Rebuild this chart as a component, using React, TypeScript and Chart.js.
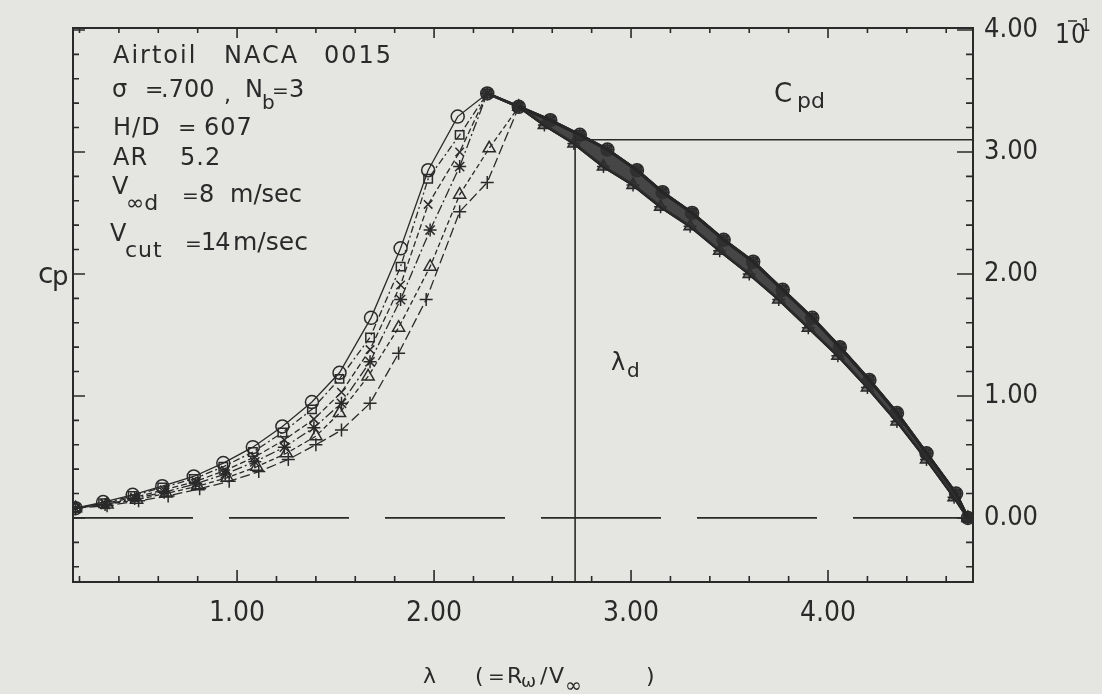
import React, { useEffect, useRef } from "react";
import { Chart, registerables } from "chart.js";

Chart.register(...registerables);

// ---- data ----
const circleLambda = [0.18, 0.32, 0.47, 0.62, 0.78, 0.93, 1.08, 1.23, 1.38, 1.52, 1.68, 1.83, 1.97, 2.12];
const circleCp = [0.08, 0.13, 0.19, 0.26, 0.34, 0.45, 0.58, 0.75, 0.95, 1.19, 1.64, 2.21, 2.85, 3.29];

const squareLambda = [0.18, 0.32, 0.47, 0.62, 0.78, 0.93, 1.08, 1.23, 1.38, 1.52, 1.675, 1.83, 1.97, 2.13];
const squareCp = [0.08, 0.12, 0.18, 0.25, 0.32, 0.42, 0.54, 0.7, 0.89, 1.14, 1.48, 2.06, 2.78, 3.14];

const crossLambda = [0.18, 0.33, 0.48, 0.63, 0.79, 0.94, 1.09, 1.24, 1.39, 1.53, 1.675, 1.83, 1.97, 2.13];
const crossCp = [0.08, 0.12, 0.17, 0.23, 0.3, 0.39, 0.5, 0.64, 0.81, 1.03, 1.38, 1.91, 2.57, 3.0];

const starLambda = [0.18, 0.33, 0.48, 0.63, 0.79, 0.94, 1.09, 1.24, 1.39, 1.53, 1.675, 1.83, 1.98, 2.13];
const starCp = [0.08, 0.11, 0.16, 0.21, 0.28, 0.36, 0.46, 0.58, 0.74, 0.94, 1.28, 1.79, 2.36, 2.88];

const triangleLambda = [0.18, 0.34, 0.49, 0.64, 0.8, 0.95, 1.1, 1.25, 1.4, 1.52, 1.665, 1.82, 1.98, 2.13, 2.28];
const triangleCp = [0.08, 0.11, 0.15, 0.2, 0.26, 0.33, 0.42, 0.53, 0.67, 0.86, 1.16, 1.56, 2.06, 2.65, 3.03];

const plusLambda = [0.18, 0.34, 0.5, 0.65, 0.81, 0.96, 1.11, 1.26, 1.4, 1.53, 1.675, 1.82, 1.96, 2.13, 2.27];
const plusCp = [0.08, 0.1, 0.14, 0.18, 0.24, 0.3, 0.38, 0.48, 0.6, 0.72, 0.94, 1.35, 1.79, 2.51, 2.75];

// common falling branch (upper edge of the band) and its lower companion
const descLambdaA = [2.27, 2.43, 2.59, 2.74, 2.88, 3.03, 3.16, 3.31, 3.47, 3.62, 3.77, 3.92, 4.06, 4.21, 4.35, 4.5, 4.65, 4.71];
const descCpA = [3.48, 3.37, 3.26, 3.14, 3.02, 2.85, 2.67, 2.5, 2.28, 2.1, 1.87, 1.64, 1.4, 1.13, 0.86, 0.53, 0.2, 0.0];
const descLambdaB = [2.43, 2.56, 2.71, 2.86, 3.01, 3.15, 3.3, 3.45, 3.6, 3.75, 3.9, 4.05, 4.2, 4.35, 4.5, 4.64, 4.71];
const descCpB = [3.37, 3.22, 3.07, 2.88, 2.73, 2.55, 2.39, 2.19, 2.0, 1.79, 1.56, 1.33, 1.07, 0.79, 0.48, 0.17, 0.0];

const lambdaD = 2.716;
const cpD = 3.1;
const cpAtLambdaD = 3.13;

const xMin = 0.167;
const xMax = 4.736;
const yMin = -0.525;
const yMax = 4.016;

const xTickLabels = [1, 2, 3, 4];
const yTickLabels = [0, 1, 2, 3, 4];
const xMinorTicks = [0.2, 0.4, 0.6, 0.8, 1, 1.2, 1.4, 1.6, 1.8, 2, 2.2, 2.4, 2.6, 2.8, 3, 3.2, 3.4, 3.6, 3.8, 4, 4.2, 4.4, 4.6];
const yMinorTicks = [-0.4, -0.2, 0, 0.2, 0.4, 0.6, 0.8, 1, 1.2, 1.4, 1.6, 1.8, 2, 2.2, 2.4, 2.6, 2.8, 3, 3.2, 3.4, 3.6, 3.8, 4];

// ---- style ----
const INK = "#2a2a2a";
const PAPER = "#e5e5e2";
const SANS = "'DejaVu Sans', 'Liberation Sans', sans-serif";
const NARROW = "'Liberation Sans Narrow', 'DejaVu Sans Condensed', 'Liberation Sans', sans-serif";

function pts(xs: number[], ys: number[]) {
  return xs.map((x, i) => ({ x, y: ys[i] }));
}

function series(label: string, xs: number[], ys: number[], dx: number[], dy: number[], style: string, dash: number[], r: number) {
  const start = dx[0] - 1e-6;
  return {
    label,
    data: [...pts(xs, ys), ...pts(dx, dy)],
    borderColor: INK,
    borderWidth: 1.3,
    borderDash: dash,
    segment: {
      borderWidth: (c: any) => (c.p0.parsed.x >= start ? 2.6 : 1.3),
      borderDash: (c: any) => (c.p0.parsed.x >= start ? [] : dash),
    },
    pointStyle: style,
    pointRadius: r,
    pointBorderWidth: 1.5,
    pointBorderColor: INK,
    pointBackgroundColor: (c: any) => (c.raw && c.raw.x >= start ? "rgba(45,45,45,0.6)" : "rgba(0,0,0,0)"),
    showLine: true,
    tension: 0,
  };
}

function refLine(label: string, data: { x: number; y: number }[], dash: number[] = [], w = 1.6) {
  return {
    label,
    data,
    borderColor: INK,
    borderWidth: w,
    borderDash: dash,
    pointRadius: 0,
    showLine: true,
  };
}

const isMajor = (v: number) => Math.abs(v - Math.round(v)) < 1e-6;

const paperPlugin = {
  id: "paper",
  beforeDraw(chart: any) {
    const { ctx, width, height } = chart;
    ctx.save();
    ctx.fillStyle = PAPER;
    ctx.fillRect(0, 0, width, height);
    ctx.restore();
  },
};

function txt(ctx: CanvasRenderingContext2D, s: string, x: number, y: number, size: number, spacing = 0, family = SANS) {
  ctx.font = `${size}px ${family}`;
  (ctx as any).letterSpacing = `${spacing}px`;
  ctx.fillText(s, x, y);
}

const framePlugin = {
  id: "frame",
  afterDraw(chart: any) {
    const { ctx, chartArea: a, scales } = chart;
    const xs = scales.x;
    const ys = scales.y;
    ctx.save();
    ctx.strokeStyle = INK;
    ctx.lineWidth = 2;
    ctx.strokeRect(a.left, a.top, a.right - a.left, a.bottom - a.top);
    ctx.lineWidth = 1.6;
    ctx.beginPath();
    for (const v of xMinorTicks) {
      const px = xs.getPixelForValue(v);
      const big = isMajor(v);
      ctx.moveTo(px, a.bottom);
      ctx.lineTo(px, a.bottom - (big ? 12 : 6));
      ctx.moveTo(px, a.top);
      ctx.lineTo(px, a.top + (big ? 10 : 5));
    }
    for (const v of yMinorTicks) {
      const py = ys.getPixelForValue(v);
      const big = isMajor(v);
      ctx.moveTo(a.left, py);
      ctx.lineTo(a.left + (big ? 12 : 6), py);
      ctx.moveTo(a.right, py);
      ctx.lineTo(a.right - (big ? 16 : 7), py);
    }
    ctx.stroke();

    // annotation text
    ctx.fillStyle = INK;
    ctx.textAlign = "left";
    ctx.textBaseline = "alphabetic";
    txt(ctx, "Airtoil", 113, 63, 24, 2);
    txt(ctx, "NACA", 224, 63, 24, 2);
    txt(ctx, "0015", 324, 63, 24, 2);

    txt(ctx, "σ", 112, 97, 24);
    txt(ctx, "=", 145, 97, 22);
    txt(ctx, ".700", 161, 97, 24);
    txt(ctx, ",", 224, 102, 22);
    txt(ctx, "N", 245, 97, 24);
    txt(ctx, "b", 262, 109, 20);
    txt(ctx, "=", 272, 97, 20);
    txt(ctx, "3", 289, 97, 24);

    txt(ctx, "H/D", 113, 135, 24, 1);
    txt(ctx, "=", 178, 135, 22);
    txt(ctx, "607", 204, 135, 24, 1);

    txt(ctx, "AR", 113, 165, 24, 1);
    txt(ctx, "5.2", 180, 165, 24, 1);

    txt(ctx, "V", 112, 194, 24);
    txt(ctx, "∞d", 126, 210, 22);
    txt(ctx, "=", 182, 202, 20);
    txt(ctx, "8", 199, 202, 24);
    txt(ctx, "m/sec", 230, 202, 24);

    txt(ctx, "V", 110, 241, 24);
    txt(ctx, "cut", 125, 257, 22, 1);
    txt(ctx, "=", 185, 250, 20);
    txt(ctx, "14", 201, 250, 24, -1);
    txt(ctx, "m/sec", 233, 250, 25);

    // Cp (left)
    txt(ctx, "c", 38, 283, 28);
    txt(ctx, "p", 52, 285, 26);

    // Cpd
    txt(ctx, "C", 774, 102, 26);
    txt(ctx, "pd", 797, 108, 22);

    // lambda d
    txt(ctx, "λ", 611, 370, 24);
    txt(ctx, "d", 627, 377, 20);

    // 10^-1 factor
    txt(ctx, "10", 1055, 43, 26, 1, NARROW);
    ctx.lineWidth = 1.5;
    ctx.beginPath();
    ctx.moveTo(1068, 21);
    ctx.lineTo(1077, 21);
    ctx.stroke();
    txt(ctx, "1", 1081, 31, 17, 0, NARROW);

    // x axis title
    txt(ctx, "λ", 423, 683, 22);
    txt(ctx, "(", 475, 683, 22);
    txt(ctx, "=", 488, 683, 20);
    txt(ctx, "R", 507, 683, 22);
    txt(ctx, "ω", 521, 687, 18);
    txt(ctx, "/", 540, 683, 22);
    txt(ctx, "V", 549, 683, 22);
    txt(ctx, "∞", 565, 692, 20);
    txt(ctx, ")", 646, 683, 22);
    ctx.restore();
  },
};

export default function App() {
  const ref = useRef<HTMLCanvasElement | null>(null);

  useEffect(() => {
    if (!ref.current) return;
    const chart = new Chart(ref.current, {
      type: "scatter",
      data: {
        datasets: [
          refLine("zero", [{ x: xMin, y: 0 }, { x: xMax, y: 0 }], [120, 36], 1.8),
          refLine("lambda_d", [{ x: lambdaD, y: yMin }, { x: lambdaD, y: cpAtLambdaD }], [], 1.6),
          refLine("Cpd", [{ x: lambdaD, y: cpD }, { x: xMax, y: cpD }], [], 1.6),
          {
            label: "band upper",
            data: pts(descLambdaA.slice(1), descCpA.slice(1)),
            borderColor: "rgba(38,38,38,0.95)",
            borderWidth: 3.2,
            pointRadius: 0,
            showLine: true,
            fill: "+1",
            backgroundColor: "rgba(48,48,48,0.88)",
          },
          {
            label: "band lower",
            data: pts(descLambdaB, descCpB),
            borderColor: "rgba(38,38,38,0.95)",
            borderWidth: 2.6,
            pointRadius: 0,
            showLine: true,
            fill: false,
          },
          series("circle", circleLambda, circleCp, descLambdaA, descCpA, "circle", [], 6.5),
          series("square", squareLambda, squareCp, descLambdaA, descCpA, "rect", [7, 3, 2, 3], 6),
          series("cross", crossLambda, crossCp, descLambdaA, descCpA, "crossRot", [6, 3], 6),
          series("star", starLambda, starCp, descLambdaA, descCpA, "star", [10, 3, 2, 3], 6.5),
          series("triangle", triangleLambda, triangleCp, descLambdaB, descCpB, "triangle", [5, 3], 7),
          series("plus", plusLambda, plusCp, descLambdaB, descCpB, "cross", [10, 4], 6.5),
        ] as any,
      },
      options: {
        responsive: false,
        animation: false,
        layout: { padding: { left: 73, top: 28, right: 0, bottom: 0 } },
        plugins: {
          legend: { display: false },
          tooltip: { enabled: false },
          title: { display: false },
          filler: { propagate: false },
        },
        scales: {
          x: {
            type: "linear",
            position: "bottom",
            min: xMin,
            max: xMax,
            grid: { display: false },
            border: { display: false },
            afterBuildTicks: (s: any) => {
              s.ticks = xTickLabels.map((v) => ({ value: v }));
            },
            afterFit: (s: any) => {
              s.height = 112;
            },
            ticks: {
              color: INK,
              padding: 7,
              maxRotation: 0,
              autoSkip: false,
              font: { family: NARROW, size: 28 },
              callback: (v: any) => Number(v).toFixed(2),
            },
          },
          y: {
            type: "linear",
            position: "right",
            min: yMin,
            max: yMax,
            grid: { display: false },
            border: { display: false },
            afterBuildTicks: (s: any) => {
              s.ticks = yTickLabels.map((v) => ({ value: v }));
            },
            afterFit: (s: any) => {
              s.width = 129;
            },
            ticks: {
              color: INK,
              padding: 3,
              autoSkip: false,
              font: { family: NARROW, size: 27 },
              callback: (v: any) => Number(v).toFixed(2),
            },
          },
        },
      },
      plugins: [paperPlugin, framePlugin],
    });
    return () => chart.destroy();
  }, []);

  return (
    <div style={{ position: "fixed", left: 0, top: 0, width: 1102, height: 694, background: PAPER }}>
      <canvas ref={ref} width={1102} height={694} style={{ display: "block", width: 1102, height: 694 }} />
    </div>
  );
}
